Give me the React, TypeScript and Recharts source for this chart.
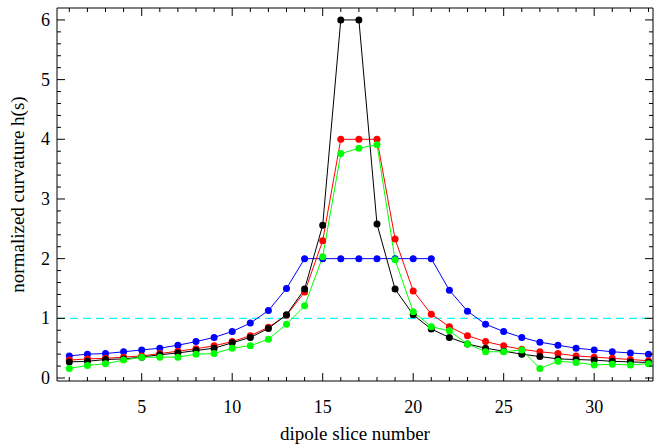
import { LineChart, Line, XAxis, YAxis, ReferenceLine } from "recharts";

const slices = [1, 2, 3, 4, 5, 6, 7, 8, 9, 10, 11, 12, 13, 14, 15, 16, 17, 18, 19, 20, 21, 22, 23, 24, 25, 26, 27, 28, 29, 30, 31, 32, 33];
const blue = [0.37, 0.4, 0.41, 0.44, 0.47, 0.5, 0.55, 0.61, 0.68, 0.78, 0.92, 1.13, 1.5, 2.0, 2.0, 2.0, 2.0, 2.0, 2.0, 2.0, 2.0, 1.47, 1.12, 0.9, 0.78, 0.68, 0.6, 0.55, 0.5, 0.47, 0.44, 0.42, 0.4];
const red = [0.3, 0.32, 0.33, 0.35, 0.37, 0.41, 0.45, 0.49, 0.54, 0.61, 0.71, 0.85, 1.05, 1.44, 2.3, 4.0, 4.0, 4.0, 2.33, 1.46, 1.07, 0.86, 0.71, 0.61, 0.54, 0.48, 0.44, 0.41, 0.37, 0.35, 0.33, 0.31, 0.29];
const black = [0.27, 0.28, 0.31, 0.32, 0.35, 0.39, 0.42, 0.46, 0.5, 0.59, 0.68, 0.83, 1.06, 1.49, 2.56, 6.0, 6.0, 2.58, 1.49, 1.06, 0.82, 0.68, 0.57, 0.5, 0.45, 0.4, 0.36, 0.32, 0.31, 0.3, 0.28, 0.27, 0.26];
const green = [0.16, 0.21, 0.24, 0.3, 0.35, 0.35, 0.35, 0.4, 0.41, 0.5, 0.54, 0.65, 0.9, 1.21, 2.03, 3.76, 3.85, 3.91, 1.98, 1.11, 0.86, 0.79, 0.57, 0.44, 0.44, 0.47, 0.16, 0.28, 0.26, 0.22, 0.23, 0.22, 0.24];

const xTicks = slices;
const yTicks = Array.from({ length: 31 }, (_, i) => Math.round(i * 2) / 10);
const reference = 1;

const data = slices.map((s, i) => ({ s, blue: blue[i], red: red[i], black: black[i], green: green[i] }));

const FONT = "'Liberation Serif', 'Times New Roman', serif";
const isMajorX = (v: number) => v % 5 === 0;
const isMajorY = (v: number) => Math.abs(v - Math.round(v)) < 1e-6;

function XTick({ x, y, payload, side }: any) {
  const v = payload.value;
  const len = isMajorX(v) ? 8 : 4;
  const dir = side === "top" ? 1 : -1;
  return (
    <g>
      <line x1={x} y1={y} x2={x} y2={y + dir * len} stroke="#000" strokeWidth={1} />
      {side !== "top" && isMajorX(v) && (
        <text x={x} y={y + 26} textAnchor="middle" dominantBaseline="central" fontFamily={FONT} fontSize={18} fill="#000">
          {v}
        </text>
      )}
    </g>
  );
}

function YTick({ x, y, payload, side }: any) {
  const v = payload.value;
  const len = isMajorY(v) ? 8 : 4;
  const dir = side === "right" ? -1 : 1;
  return (
    <g>
      <line x1={x} y1={y} x2={x + dir * len} y2={y} stroke="#000" strokeWidth={1} />
      {side !== "right" && isMajorY(v) && (
        <text x={x - 7} y={y} textAnchor="end" dominantBaseline="central" fontFamily={FONT} fontSize={18} fill="#000">
          {Math.round(v)}
        </text>
      )}
    </g>
  );
}

const series = [
  { key: "blue", color: "#0000ff" },
  { key: "red", color: "#ff0000" },
  { key: "black", color: "#000000" },
  { key: "green", color: "#00ff00" },
];

export default function App() {
  return (
    <div style={{ position: "fixed", left: 0, top: 0, background: "#fff" }}>
      <LineChart width={657} height={447} data={data} margin={{ top: 7, right: 3, bottom: 0, left: 0 }}>
        <XAxis
          xAxisId="b" dataKey="s" type="number" domain={[0.32, 33.25]} allowDataOverflow ticks={xTicks}
          height={66} tickSize={0} tickMargin={0} tickLine={false} interval={0}
          axisLine={{ stroke: "#000" }} tick={(p: any) => <XTick {...p} side="bottom" />}
          label={{
            content: (p: any) => (
              <text x={p.viewBox.x + p.viewBox.width / 2} y={p.viewBox.y + 52} textAnchor="middle" dominantBaseline="central" fontFamily={FONT} fontSize={19} fill="#000">
                dipole slice number
              </text>
            ),
          }}
        />
        <XAxis
          xAxisId="t" orientation="top" dataKey="s" type="number" domain={[0.32, 33.25]} allowDataOverflow ticks={xTicks}
          height={1} tickSize={0} tickMargin={0} tickLine={false} interval={0}
          axisLine={{ stroke: "#000" }} tick={(p: any) => <XTick {...p} side="top" />}
        />
        <YAxis
          yAxisId="l" type="number" domain={[-0.05, 6.2]} allowDataOverflow ticks={yTicks}
          width={57} tickSize={0} tickMargin={0} tickLine={false} interval={0}
          axisLine={{ stroke: "#000" }} tick={(p: any) => <YTick {...p} side="left" />}
          label={{
            content: (p: any) => {
              const cx = 17;
              const cy = p.viewBox.y + p.viewBox.height / 2;
              return (
                <text x={cx} y={cy} transform={`rotate(-90 ${cx} ${cy})`} textAnchor="middle" dominantBaseline="central" fontFamily={FONT} fontSize={19} fill="#000">
                  normalized curvature h(s)
                </text>
              );
            },
          }}
        />
        <YAxis
          yAxisId="r" orientation="right" type="number" domain={[-0.05, 6.2]} allowDataOverflow ticks={yTicks}
          width={1} tickSize={0} tickMargin={0} tickLine={false} interval={0}
          axisLine={{ stroke: "#000" }} tick={(p: any) => <YTick {...p} side="right" />}
        />
        <ReferenceLine xAxisId="b" yAxisId="l" y={reference} stroke="#00ffff" strokeWidth={1.2} strokeDasharray="8 5" />
        {series.map((s) => (
          <Line
            key={s.key} xAxisId="b" yAxisId="l" dataKey={s.key} stroke={s.color} strokeWidth={1}
            dot={{ r: 3.5, fill: s.color, stroke: s.color, strokeWidth: 0 }} isAnimationActive={false}
          />
        ))}
      </LineChart>
    </div>
  );
}
